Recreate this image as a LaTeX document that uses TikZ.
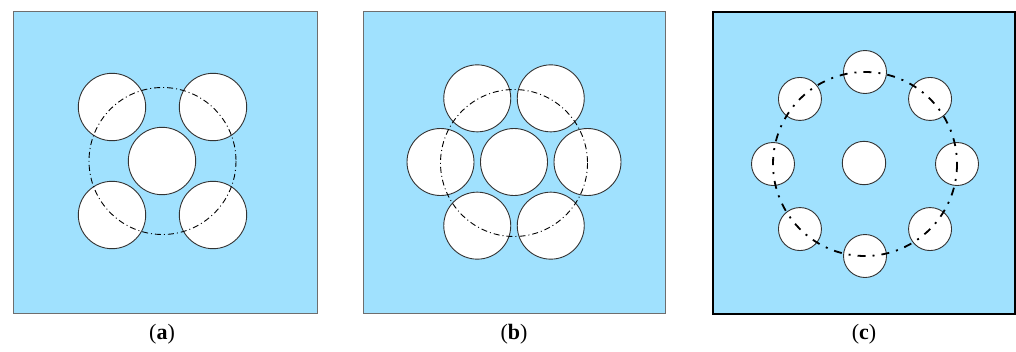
\documentclass[tikz,border=0pt]{standalone}
\usepackage{fontspec}
\setmainfont{Liberation Serif}
\usetikzlibrary{calc}
\definecolor{water}{RGB}{160,225,254}
\definecolor{edge}{RGB}{110,110,110}
\tikzset{
  hole/.style={draw=black!80,fill=white,line width=0.9pt},
  ring/.style={line width=0.9pt,dash pattern=on 6pt off 3pt on 1pt off 3pt},
  ringthick/.style={line width=1.8pt,dash pattern=on 8pt off 7pt on 2pt off 7pt},
  caption/.style={font=\fontsize{22}{26}\selectfont}
}
\begin{document}
\begin{tikzpicture}[x=1pt,y=-1pt]
  \useasboundingbox (0,0) rectangle (1016,351);
  % (a)
  \draw[edge,fill=water,line width=0.9pt] (13,11) rectangle (317,313);
  \draw[hole] (162,161) circle (33.7);
  \foreach \x/\y in {112/107,213/107,112/215,213/215}
    \draw[hole] (\x,\y) circle (33.7);
  \draw[ring] (162.5,161) circle (73.5);
  \node[caption] (capa) at (162,334) {(\textbf{a})};
  % (b)
  \draw[edge,fill=water,line width=0.9pt] (363,11) rectangle (665,313);
  \draw[hole] (514,162) circle (33.5);
  \foreach \a in {0,60,...,300}
    \draw[hole] ($(514,162)+(\a:73.5)$) circle (33.5);
  \draw[ring] (514,163) circle (73.5);
  \node[caption] (capb) at (514,334) {(\textbf{b})};
  % (c)
  \draw[black,fill=water,line width=1.5pt] (713,12) rectangle (1015,314);
  \draw[hole] (864,163) circle (21.7);
  \foreach \a in {0,45,...,315}
    \draw[hole] ($(865,164)+(\a:92)$) circle (21.5);
  \draw[ringthick] (865,164) circle (92);
  \node[caption] (capc) at (864,334) {(\textbf{c})};
\end{tikzpicture}
\end{document}
